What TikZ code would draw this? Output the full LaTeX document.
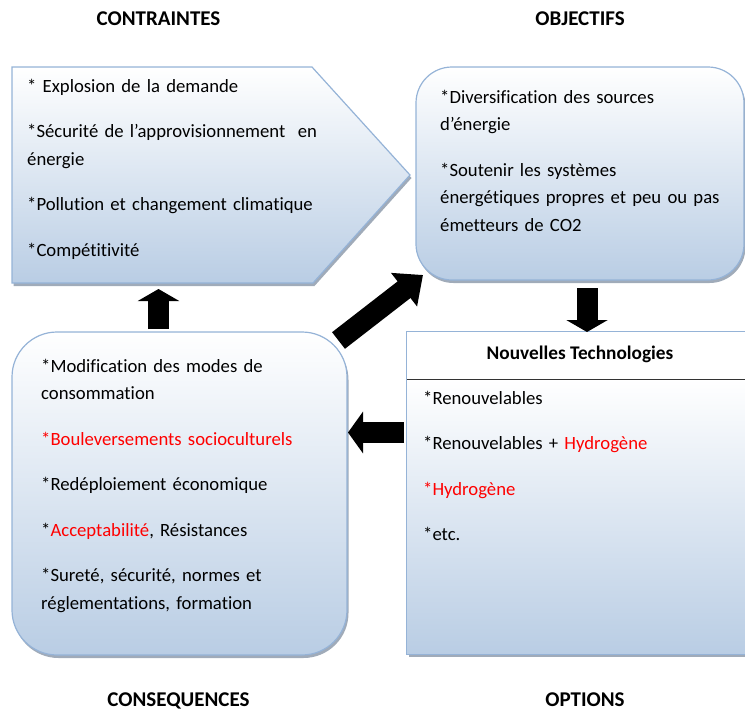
\documentclass[tikz,border=0pt]{standalone}
\usepackage{fontspec}
\setmainfont{Carlito}[Ligatures=NoCommon]
\usepackage{tikz}
\usetikzlibrary{arrows.meta,shadows}
\definecolor{boxblue}{RGB}{185,205,228}
\definecolor{boxline}{RGB}{149,179,215}
\definecolor{shadowgray}{RGB}{120,135,155}

\begin{document}
\begin{tikzpicture}[x=1pt,y=-1pt,
        box/.style={draw=boxline, line width=1.2pt, top color=white, bottom color=boxblue,
            drop shadow={shadow xshift=1.5pt, shadow yshift=-3pt, fill=shadowgray, opacity=0.7}},
        txt/.style={anchor=base west, inner sep=0pt, text width=#1, align=left,
            font=\fontsize{18.7}{27.5}\selectfont},
        heading/.style={anchor=base, inner sep=0pt, font=\fontsize{21}{24}\selectfont\bfseries},
        fat/.style={line width=21pt, -{Triangle[width=41pt,length=#1]}}]
    \useasboundingbox (0,0) rectangle (745,710);

    % titles
    \node[heading] (tcontr) at (158.5,25) {CONTRAINTES};
    \node[heading] (tobj) at (580,25) {OBJECTIFS};
    \node[heading] (tcons) at (178.5,706) {CONSEQUENCES};
    \node[heading] (topt) at (585,706) {OPTIONS};

    % boxes
    \path[box] (12,67) -- (312,67) -- (410,175) -- (313,283) -- (12,283) -- cycle;
    \node[box, rounded corners=36pt, minimum width=328pt, minimum height=213pt, inner sep=0pt]
        (obj) at (580,173.5) {};
    \node[box, rounded corners=45pt, minimum width=335pt, minimum height=323pt, inner sep=0pt]
        (cons) at (179.5,493.5) {};
    \node[fill=white, minimum width=343pt, minimum height=322pt, inner sep=0pt,
        drop shadow={shadow xshift=1.5pt, shadow yshift=-3pt, fill=shadowgray, opacity=0.7}]
        (opt) at (578.5,493) {};
    \coordinate (optline) at (407,379);
    \shade[top color=white, bottom color=boxblue] (optline) rectangle (opt.south east);
    \draw[boxline, line width=1.2pt] (opt.north west) rectangle (opt.south east);
    \draw[line width=1pt, black!80] (optline) -- (optline -| opt.east);

    % texts
    \node[txt=330pt] (contr) at (27,92) {* Explosion de la demande\\[18pt]
        *Sécurité de l’approvisionnement~ en\\ énergie\\[18pt]
        *Pollution et changement climatique\\[18pt]
        *Compétitivité};
    \node[txt=320pt] (objtxt) at (440,103) {*Diversification des sources\\ d’énergie\\[18pt]
        *Soutenir les systèmes\\ énergétiques propres et peu ou pas\\ émetteurs de CO2};
    \node[txt=320pt] (constxt) at (41,372) {*Modification des modes de\\ consommation\\[18pt]
        \textcolor{red}{*Bouleversements socioculturels}\\[18pt]
        *Redéploiement économique\\[18pt]
        *\textcolor{red}{Acceptabilité}, Résistances\\[18pt]
        *Sureté, sécurité, normes et\\ réglementations, formation};
    \node[heading, font=\fontsize{19.3}{24}\selectfont\bfseries] (opthead) at (580,359) {Nouvelles Technologies};
    \node[txt=320pt] (opttxt) at (423,404) {*Renouvelables\\[18pt]
        *Renouvelables + \textcolor{red}{Hydrogène}\\[18pt]
        \textcolor{red}{*Hydrogène}\\[18pt]
        *etc.};

    % arrows
    \coordinate (upfrom) at (158.5,329);
    \coordinate (upto) at (158.5,289);
    \coordinate (downfrom) at (587,288);
    \coordinate (downto) at (587,332);
    \coordinate (leftfrom) at (404,432.5);
    \coordinate (leftto) at (348,432.5);
    \coordinate (diagfrom) at (338.5,340.5);
    \coordinate (diagto) at (423,275);
    \draw[fat=12pt] (upfrom) -- (upto);
    \draw[fat=12pt] (downfrom) -- (downto);
    \draw[fat=15pt] (leftfrom) -- (leftto);
    \draw[fat=24pt] (diagfrom) -- (diagto);
\end{tikzpicture}
\end{document}
